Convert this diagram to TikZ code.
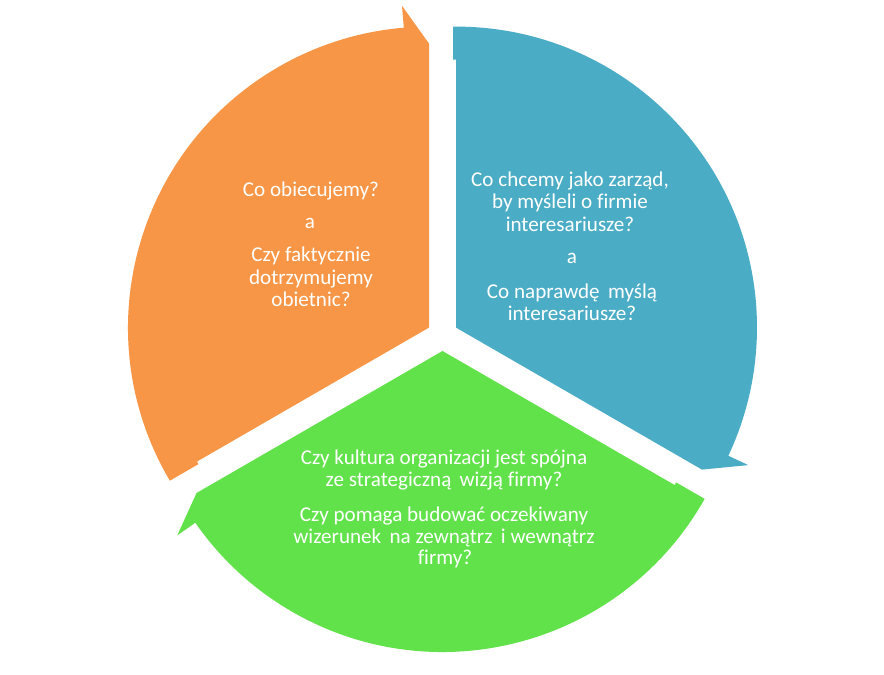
\documentclass[tikz,border=0pt]{standalone}
\usepackage{fontspec}
\setmainfont{Carlito}[Ligatures=NoCommon]
\usetikzlibrary{calc}
\definecolor{segorange}{HTML}{F79646}
\definecolor{segblue}{HTML}{4BACC6}
\definecolor{seggreen}{HTML}{62E24A}
\tikzset{
  lbl/.style={anchor=base, inner sep=0pt, text=white, font=\fontsize{21.1}{22.5}\selectfont},
}
% #1 colour, #2 centre, #3 tail angle; the segment runs clockwise 120 degrees
\newcommand{\drawseg}[3]{%
  \fill[#1] (#2) -- ($(#2)+(#3:268)$) -- ($(#2)+(#3:268)+(#3+90:3)$)
    -- ($(#2)+(#3+0.571:301)$)
    arc[start angle=#3+0.571, end angle=#3-115.2, radius=301]
    -- ($(#2)+(#3-115.2:323)$) -- ($(#2)+(#3-120:284)$) -- cycle;
}
\begin{document}
\begin{tikzpicture}[x=1pt,y=1pt]
\useasboundingbox (0,0) rectangle (884,675);
\coordinate (co) at (429,347.4);
\coordinate (cb) at (456,347.4);
\coordinate (cg) at (442.5,324);
\drawseg{segorange}{co}{210}
\drawseg{segblue}{cb}{90}
\drawseg{seggreen}{cg}{330}
% orange text
\node[lbl] (o1) at (311,478.3) {Co obiecujemy?};
\node[lbl] (o2) at (310,446.7) {a};
\node[lbl] (o3) at (311,413.3) {Czy faktycznie};
\node[lbl] (o4) at (311,390) {dotrzymujemy};
\node[lbl] (o5) at (311,368.3) {obietnic?};
% blue text
\node[lbl] (b1) at (570,488.3) {Co chcemy jako zarząd,};
\node[lbl] (b2) at (570,466.7) {by myśleli o firmie};
\node[lbl] (b3) at (570,443.3) {interesariusze?};
\node[lbl] (b4) at (572,411) {a};
\node[lbl] (b5) at (572,376) {Co naprawdę\, myślą};
\node[lbl] (b6) at (572,354) {interesariusze?};
% green text
\node[lbl] (g1) at (444,210) {Czy kultura organizacji jest spójna};
\node[lbl] (g2) at (444,188.3) {ze strategiczną\, wizją firmy?};
\node[lbl] (g3) at (444,153.3) {Czy pomaga budować oczekiwany};
\node[lbl] (g4) at (444,131.7) {wizerunek\, na zewnątrz\, i wewnątrz};
\node[lbl] (g5) at (445,110) {firmy?};
\end{tikzpicture}
\end{document}
